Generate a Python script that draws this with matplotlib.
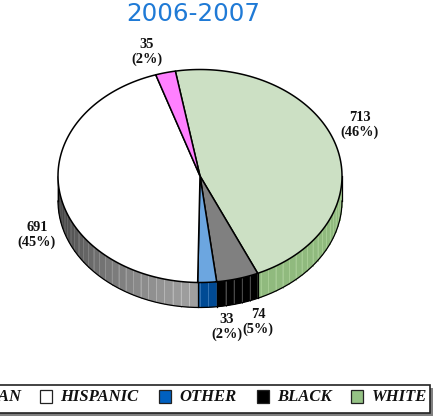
import numpy as np
import matplotlib
matplotlib.use("Agg")
import matplotlib.pyplot as plt
from matplotlib.patches import Polygon, Rectangle

names = ["WHITE", "BLACK", "OTHER", "HISPANIC", "ASIAN"]
counts = [713, 74, 33, 691, 35]
pct_labels = ["(46%)", "(5%)", "(2%)", "(45%)", "(2%)"]
top_colors = ["#cce0c4", "#808080", "#6ca6e0", "#ffffff", "#ff80ff"]
side_colors = ["#90ba7e", "#000000", "#004a94", "#a0a0a0", "#c040c0"]
stripe_colors = ["#a8cf95", "#555555", "#3a78b8", "#c4c4c4", "#e060e0"]
legend_colors = ["#95c285", "#000000", "#0060c0", "#ffffff", "#ff80ff"]

# pixel space, y down, so everything lines up with the reference
W, H = 435, 416
CX, CY, RX, RY, DEPTH = 200, 176, 142, 106.5, 25
START = -10.0

fig = plt.figure(figsize=(W / 100, H / 100), dpi=100)
ax = fig.add_axes([0, 0, 1, 1])
ax.set_xlim(0, W)
ax.set_ylim(H, 0)
ax.axis("off")


def rim(theta, dy=0.0):
    t = np.radians(theta)
    return CX + RX * np.sin(t), CY - RY * np.cos(t) + dy


def shade(color, theta):
    # sides get darker towards the left edge
    rgb = np.array(matplotlib.colors.to_rgb(color))
    if theta > 180:
        f = 1.0 - 0.72 * ((theta - 180) / 90) ** 1.3
    else:
        f = 1.0
    return rgb * f


angles = START + np.concatenate([[0], np.cumsum(counts)]) / sum(counts) * 360

# side wall
for k in range(len(counts)):
    a0, a1 = max(angles[k], 90), min(angles[k + 1], 270)
    if a1 <= a0:
        continue
    edges = np.append(np.arange(a0, a1, 3.4), a1)
    for i in range(len(edges) - 1):
        th = np.linspace(edges[i], edges[i + 1], 6)
        x, y = rim(th)
        xb, yb = rim(th[::-1], DEPTH)
        col = shade(side_colors[k], th.mean())
        ax.add_patch(Polygon(np.c_[np.r_[x, xb], np.r_[y, yb]], fc=col, ec=col, lw=0.2, zorder=1))
        # thin lighter seam between the facets
        xs, ys = rim(edges[i + 1])
        ax.plot([xs, xs], [ys, ys + DEPTH], color=shade(stripe_colors[k], th.mean()),
                lw=0.6, zorder=1.5)
    x0, y0 = rim(a1)
    if a1 < 270:
        ax.plot([x0, x0], [y0, y0 + DEPTH], color="black", lw=0.9, zorder=2)

th = np.linspace(90, 270, 200)
x, y = rim(th, DEPTH)
ax.plot(x, y, color="black", lw=0.9, zorder=2)
for t in (90, 270):
    x0, y0 = rim(t)
    ax.plot([x0, x0], [y0, y0 + DEPTH], color="black", lw=0.9, zorder=2)

# top face
for k in range(len(counts)):
    th = np.linspace(angles[k], angles[k + 1], 120)
    x, y = rim(th)
    ax.add_patch(Polygon(np.c_[np.r_[CX, x], np.r_[CY, y]], fc=top_colors[k], ec="black",
                         lw=1.1, joinstyle="round", zorder=3))

# value labels
label_pos = [(360, 125), (258, 322), (227, 327), (37, 235), (147, 52)]
serif = "Liberation Serif"
for c, p, (lx, ly) in zip(counts, pct_labels, label_pos):
    ax.text(lx, ly, f"{c}\n{p}", ha="center", va="center", family=serif, weight="bold",
            fontsize=10.4, linespacing=1.2, color="#111111", zorder=5)

ax.text(193, 14, "2006-2007", ha="center", va="center", family="DejaVu Sans",
        fontsize=17.7, color="#1f7ad6", zorder=5)

# legend box, its left end is cut off by the image edge
ax.add_patch(Rectangle((-30, 388), 463, 28, fc="#808080", ec="none", zorder=5))
ax.add_patch(Rectangle((-30, 385), 460, 28, fc="white", ec="#222222", lw=1.2, zorder=6))
legend_order = [3, 2, 1, 0]
swatch_x = [40, 159, 257, 351]
for k, sx in zip(legend_order, swatch_x):
    ax.add_patch(Rectangle((sx, 390), 12, 12.5, fc=legend_colors[k], ec="#222222", lw=0.9, zorder=7))
    ax.text(sx + 20.5, 397, names[k], ha="left", va="center", family=serif, weight="bold",
            style="italic", fontsize=12, color="#111111", zorder=7)
ax.text(22, 397, names[4], ha="right", va="center", family=serif, weight="bold",
        style="italic", fontsize=12, color="#111111", zorder=7)

fig.savefig("out.png", dpi=100)
